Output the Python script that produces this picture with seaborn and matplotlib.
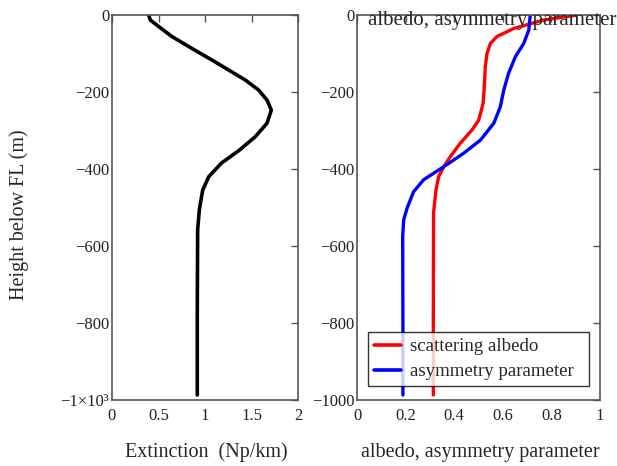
import matplotlib
matplotlib.use("Agg")
import matplotlib.pyplot as plt
import seaborn as sns
import pandas as pd

# Extinction profile (Np/km) vs height below FL (m)
ext_height = [0, -13, -30, -56, -87, -117, -143, -169, -195, -221, -247, -281, -316, -351,
              -385, -420, -455, -506, -558, -766, -987]
ext_value = [0.394, 0.412, 0.502, 0.645, 0.86, 1.075, 1.255, 1.434, 1.577, 1.667, 1.713, 1.667,
             1.541, 1.37, 1.175, 1.04, 0.975, 0.939, 0.921, 0.917, 0.917]

# Scattering albedo
alb_height = [0, -13, -35, -56, -74, -100, -134, -186, -229, -273, -299, -333, -368, -394,
              -420, -455, -472, -515, -809, -987]
alb_value = [0.905, 0.768, 0.645, 0.576, 0.549, 0.535, 0.528, 0.524, 0.519, 0.501, 0.473, 0.425,
             0.384, 0.357, 0.336, 0.325, 0.322, 0.315, 0.314, 0.314]

# Asymmetry parameter
asy_height = [0, -39, -74, -108, -151, -195, -238, -281, -325, -359, -394, -428, -459, -481,
              -502, -532, -576, -809, -987]
asy_value = [0.713, 0.707, 0.686, 0.652, 0.624, 0.604, 0.590, 0.563, 0.508, 0.439, 0.357, 0.274,
             0.233, 0.219, 0.206, 0.192, 0.188, 0.189, 0.189]

left_xticks = [0, 0.5, 1, 1.5, 2]
left_xticklabels = ["0", "0.5", "1", "1.5", "2"]
yticks = [0, -200, -400, -600, -800, -1000]
left_yticklabels = ["0", "\u2212200", "\u2212400", "\u2212600", "\u2212800", "\u22121\u00d710\u00b3"]
right_yticklabels = ["0", "\u2212200", "\u2212400", "\u2212600", "\u2212800", "\u22121000"]
right_xticks = [0, 0.2, 0.4, 0.6, 0.8, 1]
right_xticklabels = ["0", "0.2", "0.4", "0.6", "0.8", "1"]

sns.set_style("white")
plt.rcParams["font.family"] = ["Liberation Serif", "DejaVu Serif"]

fig = plt.figure(figsize=(6.17, 4.66), dpi=100)
W, H = 617, 466
ax1 = fig.add_axes([112 / W, 1 - 400 / H, (298 - 112) / W, (400 - 15) / H])
ax2 = fig.add_axes([357 / W, 1 - 400 / H, (600 - 357) / W, (400 - 15) / H])

df_ext = pd.DataFrame({"x": ext_value, "y": ext_height})
sns.lineplot(data=df_ext, x="x", y="y", sort=False, estimator=None, color="black", lw=2.6, ax=ax1)

df_alb = pd.DataFrame({"x": alb_value, "y": alb_height})
df_asy = pd.DataFrame({"x": asy_value, "y": asy_height})
sns.lineplot(data=df_alb, x="x", y="y", sort=False, estimator=None, color="#ff0000", lw=2.4, ax=ax2,
             label="scattering albedo")
sns.lineplot(data=df_asy, x="x", y="y", sort=False, estimator=None, color="#0000ff", lw=2.4, ax=ax2,
             label="asymmetry parameter")

for ax in (ax1, ax2):
    ax.set_ylim(-1000, 0)
    ax.set_yticks(yticks)
    ax.tick_params(direction="in", length=5, width=1, top=True, right=True, left=False,
                   labelsize=12, colors="#555555", labelcolor="#222222")
    ax.tick_params(axis="x", pad=6)
    ax.tick_params(axis="y", pad=2)
    for s in ax.spines.values():
        s.set_color("#555555")
        s.set_linewidth(1.2)

ax1.set_xlim(0, 2)
ax1.set_xticks(left_xticks)
ax1.set_xticklabels(left_xticklabels)
ax1.set_yticklabels(left_yticklabels)
ax1.set_xlabel("Extinction  (Np/km)", fontsize=14.5, va="center")
ax1.xaxis.set_label_coords((206 - 112) / 186, (400 - 452) / 385)
ax1.set_ylabel("Height below FL (m)", fontsize=14.5, va="center")
ax1.yaxis.set_label_coords((19 - 112) / 186, (400 - 215) / 385)

ax2.set_xlim(0, 1)
ax2.set_xticks(right_xticks)
ax2.set_xticklabels(right_xticklabels)
ax2.set_yticklabels(right_yticklabels)
ax2.set_xlabel("albedo, asymmetry parameter", fontsize=14.5, va="center")
ax2.xaxis.set_label_coords((480 - 357) / 243, (400 - 452) / 385)
ax2.set_ylabel("")
fig.text(492 / W, 1 - 21 / H, "albedo, asymmetry parameter", fontsize=15, ha="center", va="center")

leg = ax2.legend(loc="lower left", bbox_to_anchor=((368 - 357) / 243, (400 - 386) / 385,
                                                   (589 - 368) / 243, (386 - 330) / 385),
                 mode="expand", borderaxespad=0, fontsize=13.6,
                 frameon=True, fancybox=False, edgecolor="black", handlelength=1.45, borderpad=0.3,
                 labelspacing=0.42, handletextpad=0.5)
leg.get_frame().set_linewidth(1.0)
for line in leg.get_lines():
    line.set_linewidth(2.6)

fig.savefig("out.png", dpi=100)
